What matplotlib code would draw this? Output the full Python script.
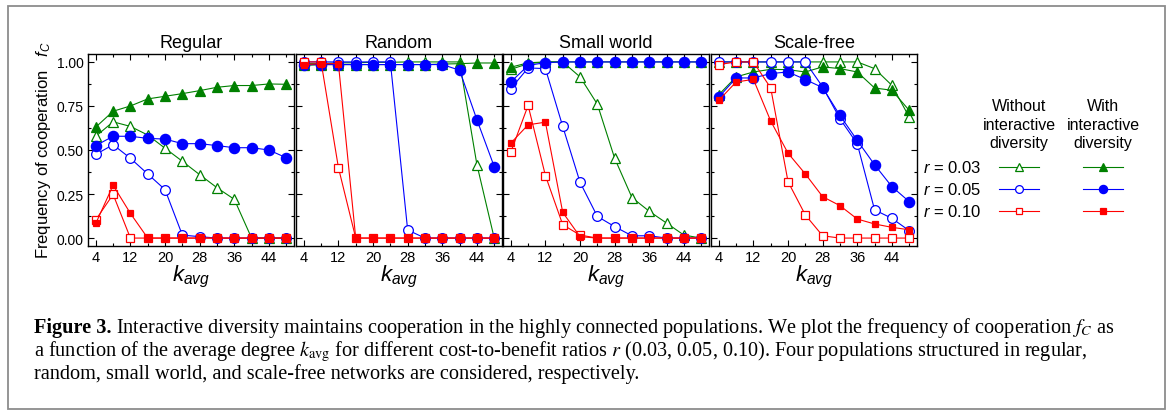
import matplotlib
matplotlib.use("Agg")
import matplotlib.pyplot as plt
from matplotlib.lines import Line2D
from matplotlib.patches import Rectangle
from matplotlib.ticker import FixedLocator

plt.rcParams['font.family'] = ['Liberation Sans', 'DejaVu Sans']
plt.rcParams['mathtext.fontset'] = 'custom'
plt.rcParams['mathtext.it'] = 'Liberation Sans:italic'
plt.rcParams['mathtext.rm'] = 'Liberation Sans'

# ---------------- data ----------------
k_avg = [4, 8, 12, 16, 20, 24, 28, 32, 36, 40, 44, 48]
panels = ["Regular", "Random", "Small world", "Scale-free"]

# Regular
reg_003_without = [0.578, 0.66, 0.634, 0.585, 0.51, 0.436, 0.36, 0.286, 0.22, 0.0, 0.0, 0.0]
reg_003_with = [0.63, 0.72, 0.75, 0.79, 0.805, 0.82, 0.837, 0.856, 0.866, 0.866, 0.875, 0.873]
reg_005_without = [0.475, 0.53, 0.453, 0.364, 0.275, 0.017, 0.008, 0.0, 0.0, 0.0, 0.0, 0.0]
reg_005_with = [0.525, 0.578, 0.578, 0.566, 0.562, 0.536, 0.536, 0.525, 0.513, 0.513, 0.50, 0.456]
reg_010_without = [0.104, 0.248, 0.0, 0.0, 0.0, 0.0, 0.0, 0.0, 0.0, 0.0, 0.0, 0.0]
reg_010_with = [0.083, 0.30, 0.14, 0.0, 0.0, 0.0, 0.0, 0.0, 0.0, 0.0, 0.0, 0.0]

# Random
rnd_003_without = [0.99, 0.99, 0.995, 0.995, 0.998, 0.998, 1.0, 1.0, 1.0, 1.0, 0.417, 0.0]
rnd_003_with = [0.98, 0.985, 0.985, 0.985, 0.985, 0.985, 0.985, 0.985, 0.988, 0.99, 0.994, 0.994]
rnd_005_without = [1.0, 1.0, 1.0, 1.0, 1.0, 1.0, 0.046, 0.0, 0.0, 0.0, 0.0, 0.0]
rnd_005_with = [0.985, 0.985, 0.985, 0.985, 0.985, 0.985, 0.985, 0.985, 0.985, 0.953, 0.672, 0.406]
rnd_010_without = [1.0, 1.0, 0.40, 0.0, 0.0, 0.0, 0.0, 0.0, 0.0, 0.0, 0.0, 0.0]
rnd_010_with = [0.985, 0.99, 0.99, 0.0, 0.0, 0.0, 0.0, 0.0, 0.0, 0.0, 0.0, 0.0]

# Small world
sw_003_without = [0.958, 0.99, 1.0, 1.0, 0.915, 0.76, 0.453, 0.23, 0.152, 0.085, 0.017, 0.0]
sw_003_with = [0.97, 0.995, 1.0, 1.0, 1.0, 1.0, 1.0, 1.0, 1.0, 1.0, 1.0, 1.0]
sw_005_without = [0.848, 0.966, 0.962, 0.634, 0.317, 0.123, 0.065, 0.013, 0.013, 0.0, 0.0, 0.0]
sw_005_with = [0.886, 0.98, 0.996, 1.0, 1.0, 1.0, 1.0, 1.0, 1.0, 1.0, 1.0, 1.0]
sw_010_without = [0.488, 0.753, 0.355, 0.076, 0.017, 0.0, 0.0, 0.0, 0.0, 0.0, 0.0, 0.0]
sw_010_with = [0.539, 0.643, 0.658, 0.146, 0.008, 0.0, 0.0, 0.0, 0.0, 0.0, 0.0, 0.0]

# Scale-free
sf_003_without = [1.0, 1.0, 1.0, 1.0, 1.0, 1.0, 1.0, 1.0, 1.0, 0.962, 0.867, 0.687]
sf_003_with = [0.814, 0.915, 0.943, 0.958, 0.956, 0.943, 0.972, 0.962, 0.943, 0.852, 0.839, 0.725]
sf_005_without = [1.0, 1.0, 1.0, 1.0, 1.0, 1.0, 0.858, 0.677, 0.535, 0.16, 0.112, 0.042]
sf_005_with = [0.80, 0.909, 0.909, 0.934, 0.943, 0.90, 0.854, 0.696, 0.554, 0.416, 0.292, 0.207]
sf_010_without = [0.985, 1.0, 1.0, 0.852, 0.32, 0.131, 0.013, 0.0, 0.0, 0.0, 0.0, 0.0]
sf_010_with = [0.782, 0.886, 0.901, 0.664, 0.482, 0.364, 0.235, 0.184, 0.108, 0.08, 0.061, 0.047]

all_data = [
    [reg_003_without, reg_003_with, reg_005_without, reg_005_with, reg_010_without, reg_010_with],
    [rnd_003_without, rnd_003_with, rnd_005_without, rnd_005_with, rnd_010_without, rnd_010_with],
    [sw_003_without, sw_003_with, sw_005_without, sw_005_with, sw_010_without, sw_010_with],
    [sf_003_without, sf_003_with, sf_005_without, sf_005_with, sf_010_without, sf_010_with],
]
r_labels = ["0.03", "0.05", "0.10"]

# ---------------- styles ----------------
colors = ["#008000", "#0000ff", "#ff0000"]
markers = ["^", "o", "s"]
msize_open = [7.0, 7.0, 5.5]
msize_fill = [7.0, 7.4, 4.6]

W, H = 1168, 414
fig = plt.figure(figsize=(W / 100, H / 100), dpi=100)

def fx(px):
    return px / W

def fy(py):
    return 1 - py / H

ax_left = [88, 296, 503, 711]
ax_w = 206
ax_top, ax_bot = 55, 247

for i, name in enumerate(panels):
    ax = fig.add_axes([fx(ax_left[i]), fy(ax_bot), fx(ax_w), (ax_bot - ax_top) / H])
    series = all_data[i]
    for j in range(3):
        c = colors[j]
        ax.plot(k_avg, series[2 * j], color=c, lw=0.8, marker=markers[j],
                ms=msize_open[j], mfc="white", mec=c, mew=0.9, zorder=3 + 2 * j)
        ax.plot(k_avg, series[2 * j + 1], color=c, lw=0.8, marker=markers[j],
                ms=msize_fill[j], mfc=c, mec=c, mew=0.9, zorder=4 + 2 * j)
    ax.set_xlim(2.2, 49.8)
    ax.set_ylim(-0.045, 1.045)
    ax.xaxis.set_major_locator(FixedLocator([4, 12, 20, 28, 36, 44]))
    ax.xaxis.set_minor_locator(FixedLocator([8, 16, 24, 32, 40, 48]))
    ax.yaxis.set_major_locator(FixedLocator([0, 0.25, 0.5, 0.75, 1.0]))
    ax.yaxis.set_minor_locator(FixedLocator([0.125, 0.375, 0.625, 0.875]))
    ax.tick_params(which="both", direction="in", top=True, right=True,
                   width=0.8, pad=3)
    ax.tick_params(axis="x", labelsize=10.5)
    ax.tick_params(axis="y", labelsize=10)
    ax.tick_params(which="major", length=4)
    ax.tick_params(which="minor", length=2.5)
    for sp in ax.spines.values():
        sp.set_linewidth(1.0)
    if i == 0:
        ax.set_yticklabels(["0.00", "0.25", "0.50", "0.75", "1.00"])
    else:
        ax.tick_params(labelleft=False)
    ax.set_title(name, fontsize=13, pad=5)
    ax.set_xlabel(r"$k_{avg}$", fontsize=16, labelpad=-1)

fig.text(fx(44), fy(150), r"Frequency of cooperation   $f_C$", rotation=90,
         ha="center", va="center", fontsize=12)

# ---------------- legend ----------------
col_x = [1019, 1103]
fig.text(fx(col_x[0]), fy(125), "Without\ninteractive\ndiversity", ha="center",
         va="center", fontsize=11.5, linespacing=1.3)
fig.text(fx(col_x[1]), fy(125), "With\ninteractive\ndiversity", ha="center",
         va="center", fontsize=11.5, linespacing=1.3)
row_y = [168, 190, 212]
for j in range(3):
    c = colors[j]
    fig.text(fx(981), fy(row_y[j]), r"$r$ = " + r_labels[j], ha="right", va="center",
             fontsize=12)
    for k, filled in enumerate([False, True]):
        xc = col_x[k]
        fig.add_artist(Line2D([fx(xc - 20), fx(xc + 20)], [fy(row_y[j]), fy(row_y[j])],
                              color=c, lw=0.8))
        fig.add_artist(Line2D([fx(xc)], [fy(row_y[j])], marker=markers[j],
                              ms=(msize_fill if filled else msize_open)[j] * 0.8,
                              mfc=c if filled else "white", mec=c, mew=0.9, lw=0))

# ---------------- caption ----------------
cap_font = dict(family="Liberation Serif", fontsize=14.6)
t1 = fig.text(fx(34), fy(333), "Figure 3.", fontweight="bold", va="baseline", **cap_font)
renderer = fig.canvas.get_renderer()
w1 = t1.get_window_extent(renderer).width / W
fig.text(fx(34) + w1 + fx(4), fy(333),
         r"Interactive diversity maintains cooperation in the highly connected populations. "
         r"We plot the frequency of cooperation $f_C$ as",
         va="baseline", math_fontfamily="stix", **cap_font)
fig.text(fx(34), fy(356),
         r"a function of the average degree $k_{\mathrm{avg}}$ for different cost-to-benefit "
         r"ratios $r$ (0.03, 0.05, 0.10). Four populations structured in regular,",
         va="baseline", math_fontfamily="stix", **cap_font)
fig.text(fx(34), fy(379),
         "random, small world, and scale-free networks are considered, respectively.",
         va="baseline", **cap_font)

# frame around figure + caption
fig.add_artist(Rectangle((fx(8), fy(410)), fx(1157), (410 - 7) / H, fill=False,
                         edgecolor="#8c8c8c", lw=1.3, transform=fig.transFigure))

fig.savefig("out.png", dpi=100)
